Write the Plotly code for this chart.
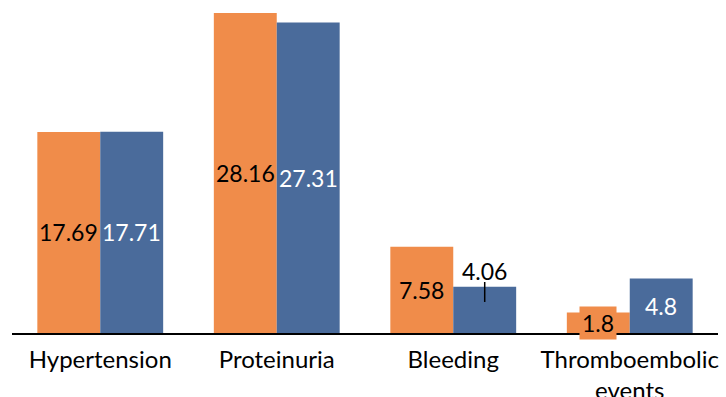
import plotly.graph_objects as go

categories = ["Hypertension", "Proteinuria", "Bleeding", "Thromboembolic<br>events"]
orange_vals = [17.69, 28.16, 7.58, 1.8]
blue_vals = [17.71, 27.31, 4.06, 4.8]

ORANGE = "#F08C4A"
BLUE = "#4A6B9B"
FONT = "Lato"
LABEL_SIZE = 23

fig = go.Figure()
fig.add_trace(go.Bar(x=categories, y=orange_vals, marker=dict(color=ORANGE, line=dict(width=0)),
                     name="A", hoverinfo="skip"))
fig.add_trace(go.Bar(x=categories, y=blue_vals, marker=dict(color=BLUE, line=dict(width=0)),
                     name="B", hoverinfo="skip",
                     error_y=dict(type="data", symmetric=False,
                                  array=[0, 0, 0.43, 0], arrayminus=[0, 0, 1.33, 0],
                                  color="black", thickness=1.5, width=0)))

annotations = []
# value labels for the first series (centred in each bar)
for i, (c, v) in enumerate(zip(categories, orange_vals)):
    ann = dict(x=c, y=v / 2, xref="x", yref="y", text=f"{v}",
               showarrow=False, xshift=-31.5, font=dict(family=FONT, size=LABEL_SIZE, color="black"))
    if i == 3:
        ann.update(bgcolor=ORANGE, borderpad=2)
    annotations.append(ann)

# value labels for the second series
for i, (c, v) in enumerate(zip(categories, blue_vals)):
    if i == 2:
        annotations.append(dict(x=c, y=v, xref="x", yref="y", text=f"{v}", showarrow=False,
                                xshift=31.5, yanchor="bottom", yshift=0,
                                font=dict(family=FONT, size=LABEL_SIZE, color="black")))
    else:
        annotations.append(dict(x=c, y=v / 2, xref="x", yref="y", text=f"{v}", showarrow=False,
                                xshift=31.5, font=dict(family=FONT, size=LABEL_SIZE, color="white")))

fig.update_layout(
    width=726, height=397,
    margin=dict(l=12, r=8, t=0, b=64),
    paper_bgcolor="white", plot_bgcolor="white",
    barmode="group", bargap=0.287, bargroupgap=0,
    showlegend=False,
    annotations=annotations,
    xaxis=dict(showline=True, linecolor="black", linewidth=2, ticks="",
               tickfont=dict(family=FONT, size=24, color="black"), showgrid=False,
               ticklabelstandoff=4, automargin=False, fixedrange=True),
    yaxis=dict(range=[0, 29.3], visible=False, showgrid=False, zeroline=False,
               automargin=False, fixedrange=True),
)

fig.write_html("out.html")
